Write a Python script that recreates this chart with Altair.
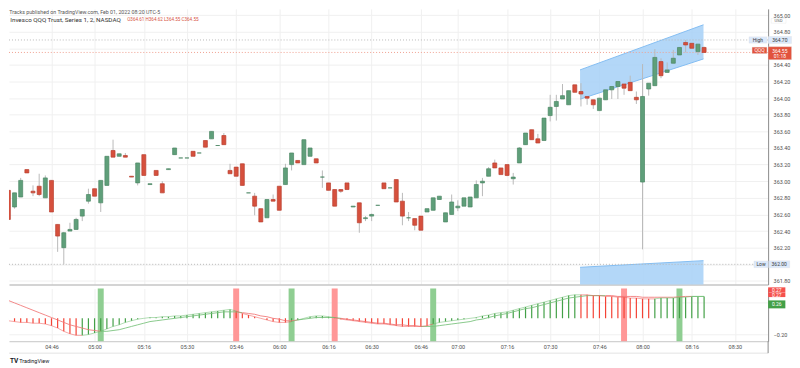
import altair as alt
import pandas as pd

# ---------------- data (2-minute bars, index 0 = 04:32) ----------------
bar_index = list(range(114))
opens = [362.89, 362.69, 362.81, 363.14, 362.88, 362.94, 362.80, 363.01, 362.48, 362.20,
         362.40, 362.42, 362.58, 362.76, 362.91, 362.74, 362.95, 363.37, 363.30, 363.31,
         363.06, 362.98, 363.32, 362.96, 363.13, 362.97, 363.14, 363.32, 363.28, 363.28,
         363.36, 363.34, 363.49, 363.51, 363.43, 363.55, 363.13, 363.17, 363.21, 362.86,
         362.82, 362.67, 362.56, 362.78, 362.94, 362.96, 363.20, 363.25, 363.20, 363.30,
         363.27, 363.05, 362.98, 362.90, 362.90, 362.98, 362.69, 362.74, 362.55, 362.58,
         362.71, 362.98, 362.92, 363.02, 362.76, 362.56, 362.55, 362.58, 362.63, 362.65,
         362.78, 362.51, 362.60, 362.68, 362.70, 362.69, 362.80, 362.98, 363.06, 363.22,
         363.16, 363.20, 363.03, 363.22, 363.44, 363.62, 363.51, 363.49, 363.79, 363.90,
         363.99, 363.92, 364.16, 364.08, 364.02, 363.98, 363.85, 363.98, 364.10, 364.14,
         364.17, 364.19, 364.01, 362.99, 364.11, 364.15, 364.44, 364.31, 364.42, 364.52,
         364.67, 364.66, 364.56, 364.61]
highs = [362.89, 362.86, 363.04, 363.14, 362.95, 363.09, 363.07, 363.01, 362.48, 362.39,
         362.50, 362.56, 362.66, 362.91, 362.91, 363.01, 363.30, 363.50, 363.33, 363.34,
         363.06, 363.22, 363.32, 362.97, 363.13, 363.00, 363.15, 363.40, 363.28, 363.28,
         363.36, 363.34, 363.49, 363.60, 363.43, 363.58, 363.21, 363.17, 363.21, 362.86,
         362.86, 362.67, 362.78, 362.84, 362.94, 363.21, 363.34, 363.25, 363.50, 363.40,
         363.27, 363.13, 362.98, 362.90, 362.90, 362.98, 362.70, 362.74, 362.58, 362.61,
         362.71, 362.98, 362.92, 363.02, 362.86, 362.63, 362.55, 362.58, 362.67, 362.80,
         362.82, 362.62, 362.84, 362.77, 362.80, 362.81, 363.01, 363.04, 363.17, 363.26,
         363.16, 363.20, 363.10, 363.41, 363.58, 363.62, 363.57, 363.76, 364.04, 364.04,
         364.17, 364.09, 364.16, 364.18, 364.02, 363.98, 364.00, 364.10, 364.14, 364.20,
         364.17, 364.27, 364.08, 364.41, 364.18, 364.59, 364.48, 364.43, 364.58, 364.61,
         364.70, 364.66, 364.65, 364.62]
lows = [362.54, 362.67, 362.81, 363.10, 362.82, 362.82, 362.80, 362.63, 362.15, 362.00,
        362.40, 362.42, 362.52, 362.73, 362.82, 362.63, 362.95, 363.29, 363.30, 363.29,
        363.05, 362.95, 363.07, 362.96, 363.07, 362.86, 363.14, 363.32, 363.28, 363.28,
        363.30, 363.34, 363.41, 363.51, 363.43, 363.44, 363.09, 363.06, 362.95, 362.86,
        362.59, 362.51, 362.56, 362.76, 362.65, 362.96, 363.13, 363.22, 363.20, 363.30,
        363.22, 362.92, 362.89, 362.70, 362.86, 362.90, 362.69, 362.38, 362.52, 362.52,
        362.71, 362.91, 362.92, 362.75, 362.47, 362.52, 362.41, 362.41, 362.63, 362.65,
        362.78, 362.51, 362.60, 362.64, 362.70, 362.69, 362.80, 362.82, 363.06, 363.16,
        363.08, 363.06, 362.96, 363.22, 363.44, 363.50, 363.46, 363.49, 363.72, 363.73,
        363.99, 363.92, 364.07, 363.90, 363.92, 363.87, 363.85, 363.98, 363.99, 363.99,
        364.04, 364.09, 363.93, 362.18, 364.03, 364.15, 364.24, 364.31, 364.42, 364.52,
        364.55, 364.60, 364.52, 364.55]
closes = [362.54, 362.86, 363.01, 363.10, 362.86, 362.84, 363.04, 362.63, 362.34, 362.38,
          362.42, 362.54, 362.66, 362.84, 362.82, 363.01, 363.30, 363.29, 363.33, 363.29,
          363.05, 363.22, 363.07, 362.97, 363.07, 362.86, 363.15, 363.40, 363.28, 363.28,
          363.30, 363.34, 363.41, 363.60, 363.43, 363.44, 363.09, 363.06, 362.95, 362.86,
          362.70, 362.51, 362.78, 362.76, 362.65, 363.16, 363.34, 363.22, 363.50, 363.40,
          363.22, 363.05, 362.89, 362.70, 362.88, 362.90, 362.70, 362.50, 362.56, 362.60,
          362.71, 362.91, 362.92, 362.75, 362.58, 362.56, 362.47, 362.41, 362.67, 362.80,
          362.82, 362.62, 362.75, 362.70, 362.80, 362.81, 362.96, 363.00, 363.15, 363.16,
          363.08, 363.07, 363.05, 363.40, 363.58, 363.50, 363.46, 363.76, 363.89, 363.96,
          364.03, 364.09, 364.07, 364.05, 364.00, 363.92, 364.00, 364.10, 364.14, 364.20,
          364.12, 364.09, 363.98, 364.02, 364.18, 364.49, 364.27, 364.34, 364.48, 364.61,
          364.64, 364.60, 364.65, 364.55]

# oscillator (lower pane)
osc_fast = [-0.03, -0.04, -0.05, -0.05, -0.06, -0.06, -0.07, -0.09, -0.12, -0.16, -0.19, -0.21,
            -0.21, -0.20, -0.18, -0.16, -0.13, -0.10, -0.08, -0.05, -0.03, -0.01, 0.00,
            0.01, 0.01, 0.02, 0.02, 0.03, 0.03, 0.04, 0.05, 0.06, 0.07, 0.08, 0.09, 0.10, 0.11,
            0.09, 0.06, 0.04, 0.02, 0.00, -0.02, -0.04, -0.05, -0.05, -0.04,
            -0.02, 0.00, 0.02, 0.03, 0.03, 0.02, 0.01,
            -0.01, -0.02, -0.03, -0.04, -0.05, -0.06, -0.07, -0.07, -0.08,
            -0.09, -0.10, -0.10, -0.10, -0.10, -0.09, -0.07,
            -0.05, -0.04, -0.03, -0.02, -0.01, 0.00, 0.01, 0.03, 0.04,
            0.06, 0.07, 0.08, 0.10, 0.12, 0.14, 0.16, 0.18, 0.20, 0.22, 0.24, 0.26, 0.28, 0.29,
            0.29, 0.29, 0.28, 0.28, 0.27, 0.27, 0.26, 0.26,
            0.25, 0.25, 0.24, 0.24, 0.24, 0.25, 0.25, 0.25, 0.26, 0.26, 0.27, 0.27, 0.27]
osc_slow = [0.22, 0.19, 0.16, 0.13, 0.10, 0.07, 0.04, 0.01, -0.02, -0.05, -0.08, -0.10, -0.12, -0.14, -0.15,
            -0.16, -0.16, -0.15, -0.14, -0.12, -0.10, -0.08, -0.06,
            -0.04, -0.03, -0.02, -0.01, 0.00, 0.01, 0.02, 0.03, 0.04, 0.05, 0.06, 0.07, 0.08, 0.08,
            0.08, 0.07, 0.06, 0.05, 0.03, 0.02, 0.00, -0.01, -0.03, -0.03,
            -0.02, -0.01, 0.00, 0.01, 0.01, 0.01, 0.01,
            0.00, -0.01, -0.02, -0.03, -0.04, -0.05, -0.06, -0.06, -0.07, -0.08, -0.08, -0.09, -0.09, -0.10, -0.10,
            -0.10,
            -0.09, -0.08, -0.07, -0.06, -0.05, -0.04, -0.02, -0.01, 0.01, 0.03, 0.045, 0.06, 0.08, 0.10, 0.12,
            0.13, 0.15, 0.17, 0.19, 0.21, 0.23, 0.25, 0.26,
            0.27, 0.28, 0.28, 0.28, 0.28, 0.28, 0.27, 0.27, 0.27, 0.27, 0.26, 0.26, 0.26, 0.26, 0.26, 0.26,
            0.265, 0.27, 0.27, 0.27, 0.27]
# histogram colour state (1 = green, 0 = red)
osc_rising = [0] * 12 + [1] * 25 + [0] * 9 + [1] * 7 + [0] * 16 + [1] * 24 + [0] * 12 + [1] * 9
cross_up = [15, 46, 69, 109]
cross_down = [37, 53, 100]

tick_index = [7, 14, 22, 29, 37, 44, 52, 59, 67, 73, 81, 88, 96, 103, 111, 118]
tick_labels = ['04:46', '05:00', '05:16', '05:30', '05:46', '06:00', '06:16', '06:30',
               '06:46', '07:00', '07:16', '07:30', '07:46', '08:00', '08:16', '08:30']
price_ticks = [361.8, 362.0, 362.2, 362.4, 362.6, 362.8, 363.0, 363.2, 363.4, 363.6,
               363.8, 364.0, 364.2, 364.4, 364.6, 364.8, 365.0]
osc_ticks = [-0.2, 0.0, 0.2]

# channel drawing (two parallel bands)
band_x = [92.85, 112.9]
band_hi_top = [364.34, 364.883]
band_hi_bot = [363.988, 364.472]
band_lo_top = [361.964, 362.044]
band_lo_bot = [361.5, 361.5]

# ---------------- styling ----------------
FONT = 'Roboto'
GREEN = '#5f9f7a'
GREEN_EDGE = '#4b8663'
RED = '#d6503d'
RED_EDGE = '#b8402f'
WICK = '#b9b9b9'
GRID = '#f0f0f0'
TXT = '#4f4f4f'
W = 763
H_TOP = 277
H_BOT = 53
X_DOMAIN = [0.1, 123.4]
P_DOMAIN = [361.757, 365.074]
O_DOMAIN = [-0.282, 0.368]

xs = alt.Scale(domain=X_DOMAIN, nice=False, zero=False, padding=0)
ps = alt.Scale(domain=P_DOMAIN, nice=False, zero=False, padding=0)
os_ = alt.Scale(domain=O_DOMAIN, nice=False, zero=False, padding=0)

label_expr = "[" + ",".join("'%s'" % t for t in tick_labels) + "][indexof([" + \
    ",".join(str(v) for v in tick_index) + "], datum.value)]"

x_axis_top = alt.Axis(values=tick_index, labels=False, ticks=False, domain=True,
                      domainColor='#c6c6c6', domainWidth=1.5, grid=True, gridColor=GRID,
                      title=None)
x_axis_bot = alt.Axis(values=tick_index, labelExpr=label_expr, ticks=False, domain=True,
                      domainColor='#c6c6c6', grid=True, gridColor=GRID, title=None,
                      labelFont=FONT, labelFontSize=5.5, labelColor=TXT, labelPadding=3)
p_axis = alt.Axis(orient='right', values=price_ticks, ticks=False, domain=True,
                  labelExpr="(abs(datum.value - 364.6) < 0.001 || abs(datum.value - 362) < 0.001) ? '' : format(datum.value, '.2f')",
                  domainColor='#8a8a8a', grid=True, gridColor=GRID, title=None,
                  labelFont=FONT, labelFontSize=5.5, labelColor=TXT, labelPadding=5)
o_axis = alt.Axis(orient='right', values=osc_ticks, ticks=False, domain=True,
                  labelExpr="abs(datum.value - 0.2) < 0.001 ? '' : format(datum.value, '.2f')",
                  domainColor='#8a8a8a', grid=True, gridColor=GRID, title=None,
                  labelFont=FONT, labelFontSize=5.5, labelColor=TXT, labelPadding=5)


def X(field):
    return alt.X(field, type='quantitative', scale=xs, axis=x_axis_top)


def P(field):
    return alt.Y(field, type='quantitative', scale=ps, axis=p_axis)


def XB(field):
    return alt.X(field, type='quantitative', scale=xs, axis=x_axis_bot)


def O(field):
    return alt.Y(field, type='quantitative', scale=os_, axis=o_axis)


# ---------------- top pane ----------------
candles = pd.DataFrame({'i': bar_index, 'o': opens, 'h': highs, 'l': lows, 'c': closes})
up = 'datum.c >= datum.o'

hi_band = pd.DataFrame({'i': band_x, 't': band_hi_top, 'b': band_hi_bot})
lo_band = pd.DataFrame({'i': band_x, 't': band_lo_top, 'b': band_lo_bot})

band_layers = []
for bdf in (hi_band, lo_band):
    band_layers.append(alt.Chart(bdf).mark_area(color='#a6d0f7', opacity=0.85, clip=True)
                       .encode(x=X('i'), y=P('t'), y2='b'))
    band_layers.append(alt.Chart(bdf).mark_line(color='#84bdf2', strokeWidth=1, clip=True)
                       .encode(x=X('i'), y=P('t')))
    band_layers.append(alt.Chart(bdf).mark_line(color='#84bdf2', strokeWidth=1, clip=True)
                       .encode(x=X('i'), y=P('b')))

level_df = pd.DataFrame({'v': [364.70, 362.00]})
levels = alt.Chart(level_df).mark_rule(color='#b8b8b8', strokeDash=[1, 2], strokeWidth=1).encode(y=P('v'))
last_df = pd.DataFrame({'v': [364.55]})
last_line = alt.Chart(last_df).mark_rule(color='#f0a090', strokeDash=[1, 2], strokeWidth=1).encode(y=P('v'))

wicks = alt.Chart(candles).mark_rule(color=WICK, strokeWidth=1, clip=True).encode(
    x=X('i'), y=P('l'), y2='h')
bodies = alt.Chart(candles).mark_bar(size=4, strokeWidth=0.7, clip=True).encode(
    x=X('i'), y=P('o'), y2='c',
    fill=alt.condition(up, alt.value(GREEN), alt.value(RED)),
    stroke=alt.condition(up, alt.value(GREEN_EDGE), alt.value(RED_EDGE)))

# header / legend texts
hdr = pd.DataFrame({'i': [0.15], 'v': [365.066], 't': ['Tracks published on TradingView.com, Feb 01, 2022 08:20 UTC-5']})
header = alt.Chart(hdr).mark_text(align='left', baseline='top', font=FONT, fontSize=5.3,
                                  color='#555555').encode(x=X('i'), y=P('v'), text='t:N')
leg = pd.DataFrame({'i': [0.3], 'v': [364.935], 't': ['Invesco QQQ Trust, Series 1, 2, NASDAQ']})
legend = alt.Chart(leg).mark_text(align='left', baseline='middle', font=FONT, fontSize=6.3,
                                  color='#333333').encode(x=X('i'), y=P('v'), text='t:N')
ohlc = pd.DataFrame({'i': [19.3], 'v': [364.935], 't': ['O364.61 H364.62 L364.55 C364.55']})
ohlc_txt = alt.Chart(ohlc).mark_text(align='left', baseline='middle', font=FONT, fontSize=4.6,
                                     color='#d6503d').encode(x=X('i'), y=P('v'), text='t:N')

# price scale tags
tags = pd.DataFrame({
    'x1': [120.3, 123.4, 120.8, 123.4, 121.1, 123.5, 123.9],
    'x2': [123.2, 127.2, 123.2, 127.2, 123.4, 126.9, 126.3],
    'y1': [364.738, 364.742, 364.613, 364.619, 362.040, 362.042, 364.958],
    'y2': [364.662, 364.658, 364.537, 364.463, 361.960, 361.958, 364.902],
    'f': ['#dce9fb', '#dce9fb', '#e2533d', '#e2533d', '#dce9fb', '#dce9fb', '#ffffff'],
})
tag_rects = alt.Chart(tags).mark_rect(stroke='#d9d9d9', strokeWidth=0.3).encode(
    x=X('x1'), x2='x2', y=P('y1'), y2='y2', fill=alt.Fill('f:N', scale=None))
tag_text = pd.DataFrame({
    'i': [121.75, 125.3, 122.0, 125.3, 125.3, 122.25, 125.2, 125.1],
    'v': [364.70, 364.70, 364.575, 364.572, 364.505, 362.00, 362.00, 364.930],
    't': ['High', '364.70', 'QQQ', '364.55', '01:18', 'Low', '362.00', 'USD'],
    'col': ['#3a3a3a', '#3a3a3a', '#ffffff', '#ffffff', '#ffffff', '#3a3a3a', '#3a3a3a', '#555555'],
    'fs': [5, 5, 5, 5, 5, 5, 5, 4.3],
})
tag_txt = alt.Chart(tag_text).mark_text(baseline='middle', align='center', font=FONT).encode(
    x=X('i'), y=P('v'), text='t:N', color=alt.Color('col:N', scale=None),
    size=alt.Size('fs:Q', scale=None))

top = alt.layer(*band_layers, levels, last_line, wicks, bodies, header, legend, ohlc_txt,
                tag_rects, tag_txt).properties(width=W, height=H_TOP)

# ---------------- lower pane ----------------
osc = pd.DataFrame({'i': bar_index, 'm': osc_fast, 's': osc_slow, 'r': osc_rising})
osc['i2'] = osc['i'].shift(-1)
osc['m2'] = osc['m'].shift(-1)
osc['s2'] = osc['s'].shift(-1)
seg = osc.dropna()
rising = 'datum.r == 1'
state = 'datum.m >= datum.s'

stripes = pd.DataFrame({'i': cross_up + cross_down,
                        'col': ['#8fce92'] * len(cross_up) + ['#ff9797'] * len(cross_down)})
stripe_marks = alt.Chart(stripes).mark_bar(size=6).encode(
    x=XB('i'), y=alt.datum(O_DOMAIN[1], scale=os_), y2=alt.datum(O_DOMAIN[0]),
    fill=alt.Fill('col:N', scale=None))
hist = alt.Chart(osc).mark_rule(strokeWidth=1.2, clip=True).encode(
    x=XB('i'), y=O('m'), y2=alt.datum(0),
    color=alt.condition(rising, alt.value('#43a047'), alt.value('#f44336')))
fast_line = alt.Chart(seg).mark_rule(strokeWidth=1, opacity=0.5, clip=True).encode(
    x=XB('i'), x2='i2', y=O('m'), y2='m2',
    color=alt.condition(rising, alt.value('#66bb6a'), alt.value('#ef5350')))
slow_line = alt.Chart(seg).mark_rule(strokeWidth=1, opacity=0.9, clip=True).encode(
    x=XB('i'), x2='i2', y=O('s'), y2='s2',
    color=alt.condition(state, alt.value('#7cc47f'), alt.value('#f27c7c')))

otags = pd.DataFrame({'x1': [123.4] * 3, 'x2': [126.2] * 3,
                      'y1': [0.382, 0.320, 0.221], 'y2': [0.322, 0.262, 0.123],
                      'f': ['#f5514d', '#f5514d', '#43a047']})
otag_rects = alt.Chart(otags).mark_rect().encode(
    x=XB('x1'), x2='x2', y=O('y1'), y2='y2', fill=alt.Fill('f:N', scale=None))
otag_text = pd.DataFrame({'i': [124.8] * 3, 'v': [0.352, 0.291, 0.172], 't': ['0.27', '0.27', '0.26']})
otag_txt = alt.Chart(otag_text).mark_text(baseline='middle', align='center', font=FONT, fontSize=5,
                                          color='white').encode(x=XB('i'), y=O('v'), text='t:N')

# frame lines under the time scale
frame_h = pd.DataFrame({'v': [-0.429]})
frame_bottom = alt.Chart(frame_h).mark_rule(color='#e3e3e3', strokeWidth=1).encode(y=O('v'))
frame_v = pd.DataFrame({'i': [123.4], 'v1': [-0.282], 'v2': [-0.429]})
frame_right = alt.Chart(frame_v).mark_rule(color='#8a8a8a', strokeWidth=1).encode(
    x=XB('i'), y=O('v1'), y2='v2')

logo_df = pd.DataFrame({'i': [0.25, 1.75], 'v': [-0.528, -0.528], 't': ['TV', 'TradingView']})
logo_tv = alt.Chart(logo_df.iloc[[0]]).mark_text(align='left', baseline='middle', font=FONT, fontSize=6.5,
                                                  fontWeight='bold', color='#131722').encode(
    x=XB('i'), y=O('v'), text='t:N')
logo_name = alt.Chart(logo_df.iloc[[1]]).mark_text(align='left', baseline='middle', font=FONT, fontSize=5.5,
                                                    color='#131722').encode(
    x=XB('i'), y=O('v'), text='t:N')

bottom = alt.layer(stripe_marks, hist, slow_line, fast_line, otag_rects, otag_txt,
                   frame_bottom, frame_right, logo_tv, logo_name).properties(width=W, height=H_BOT)

chart = alt.vconcat(top, bottom, spacing=2).properties(
    padding={'left': 0, 'top': 0, 'right': 0, 'bottom': 0},
    background='white'
).configure_view(strokeWidth=0)

chart.save("out.html", embed_options={"renderer": "svg", "actions": False})
